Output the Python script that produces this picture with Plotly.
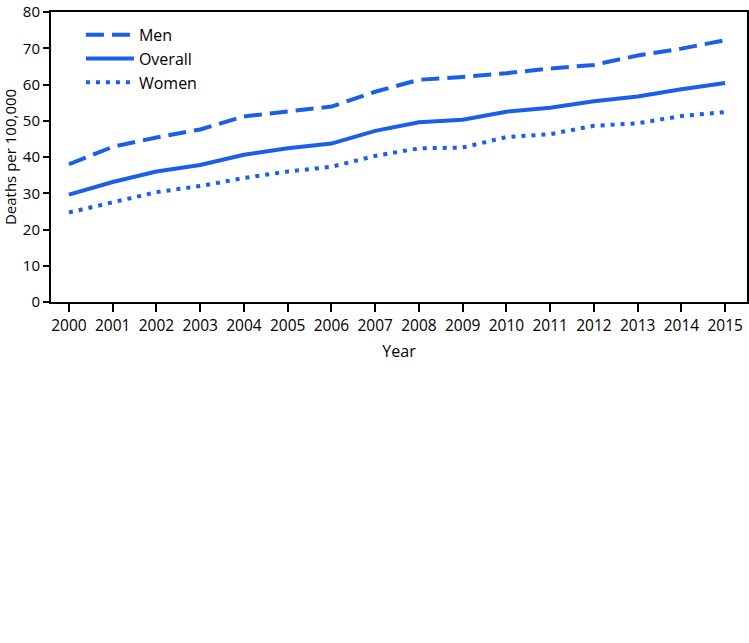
import plotly.graph_objects as go

years = list(range(2000, 2016))
men = [38.0, 42.8, 45.4, 47.6, 51.2, 52.5, 53.9, 58.0, 61.3, 62.1, 63.1, 64.4, 65.4, 68.0, 69.9, 72.2]
overall = [29.6, 33.1, 36.0, 37.8, 40.6, 42.4, 43.7, 47.2, 49.6, 50.3, 52.5, 53.6, 55.4, 56.7, 58.7, 60.4]
women = [24.7, 27.4, 30.3, 32.0, 34.2, 36.0, 37.3, 40.3, 42.4, 42.6, 45.5, 46.3, 48.6, 49.3, 51.3, 52.4]

BLUE = '#1a5fe8'
FONT = 'Open Sans, sans-serif'

fig = go.Figure()
fig.add_trace(go.Scatter(x=years, y=men, name='Men', mode='lines',
                         line=dict(color=BLUE, width=4, dash='18px,8px')))
fig.add_trace(go.Scatter(x=years, y=overall, name='Overall', mode='lines',
                         line=dict(color=BLUE, width=4)))
fig.add_trace(go.Scatter(x=years, y=women, name='Women', mode='lines',
                         line=dict(color=BLUE, width=4, dash='4px,6px')))

fig.update_layout(
    width=749, height=643,
    margin=dict(l=51, r=2, t=12, b=341),
    paper_bgcolor='white', plot_bgcolor='white',
    font=dict(family=FONT, size=15.5, color='black'),
    showlegend=True,
    legend=dict(x=0.043, y=0.98, xanchor='left', yanchor='top',
                bgcolor='rgba(0,0,0,0)', font=dict(size=16, family=FONT),
                itemwidth=48, tracegroupgap=0),
)
fig.update_xaxes(
    range=[1999.59, 2015.5], tickmode='array', tickvals=years,
    ticktext=[str(y) for y in years], automargin=False, ticklabeloverflow='allow',
    showgrid=False, zeroline=False, showline=True, linecolor='black', linewidth=2,
    mirror=True, ticks='outside', ticklen=8, tickwidth=2, tickcolor='black',
    title=dict(text='Year', font=dict(size=16), standoff=11),
)
fig.update_yaxes(
    range=[0, 80], dtick=10, automargin=False, ticklabeloverflow='allow',
    tickfont=dict(size=15),
    showgrid=False, zeroline=False, showline=True, linecolor='black', linewidth=2,
    mirror=True, ticks='outside', ticklen=6, tickwidth=2, tickcolor='black',
    title=dict(text='Deaths per 100,000', font=dict(size=15), standoff=4),
)

# drop the browser's default page margin so the figure fills the window
fig.write_html("out.html", config={'displayModeBar': False},
               post_script="document.body.style.margin='0';")
